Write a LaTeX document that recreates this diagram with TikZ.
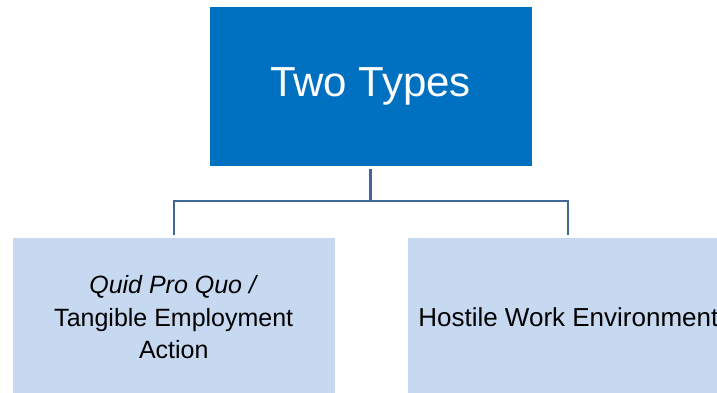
\documentclass[tikz,border=0pt]{standalone}
\usepackage{fontspec}
\setmainfont{Liberation Sans}
\usepackage{xcolor}
\usepackage{tikz}
\usetikzlibrary{positioning}

\definecolor{headblue}{RGB}{0,112,192}
\definecolor{paleblue}{RGB}{198,217,240}
\definecolor{linkblue}{RGB}{65,103,154}

\tikzset{
  headbox/.style={fill=headblue,draw=white,line width=0.6pt,inner sep=0pt,
    minimum width=323pt,minimum height=160pt,text=white,
    font=\fontsize{42}{50}\selectfont},
  typebox/.style={fill=paleblue,draw=white,line width=0.6pt,inner sep=0pt,
    minimum width=322.5pt,minimum height=160pt,text=black,align=center,
    font=\fontsize{25}{32}\selectfont},
  link/.style={draw=linkblue,line width=2.2pt,shorten <=3pt,shorten >=2pt}
}

\begin{document}
\begin{tikzpicture}[x=1pt,y=-1pt]
    \path[use as bounding box,clip] (0,0) rectangle (717,393);
    % top box and the two kinds below it
    \node[headbox] (types) at (370.5,86) {Two Types};
    \node[typebox] (qpq) at (173.75,317) {\textit{Quid Pro Quo /}\\[1.5pt]Tangible Employment\\Action};
    \node[typebox,right=71.5pt of qpq,font=\fontsize{26}{32}\selectfont] (hostile) {Hostile Work Environment};
    % tree connectors
    \draw[link] (types.south) -- ++(0,35) -| (qpq.north);
    \draw[link] (types.south) -- ++(0,35) -| (hostile.north);
  \end{tikzpicture}
\end{document}
